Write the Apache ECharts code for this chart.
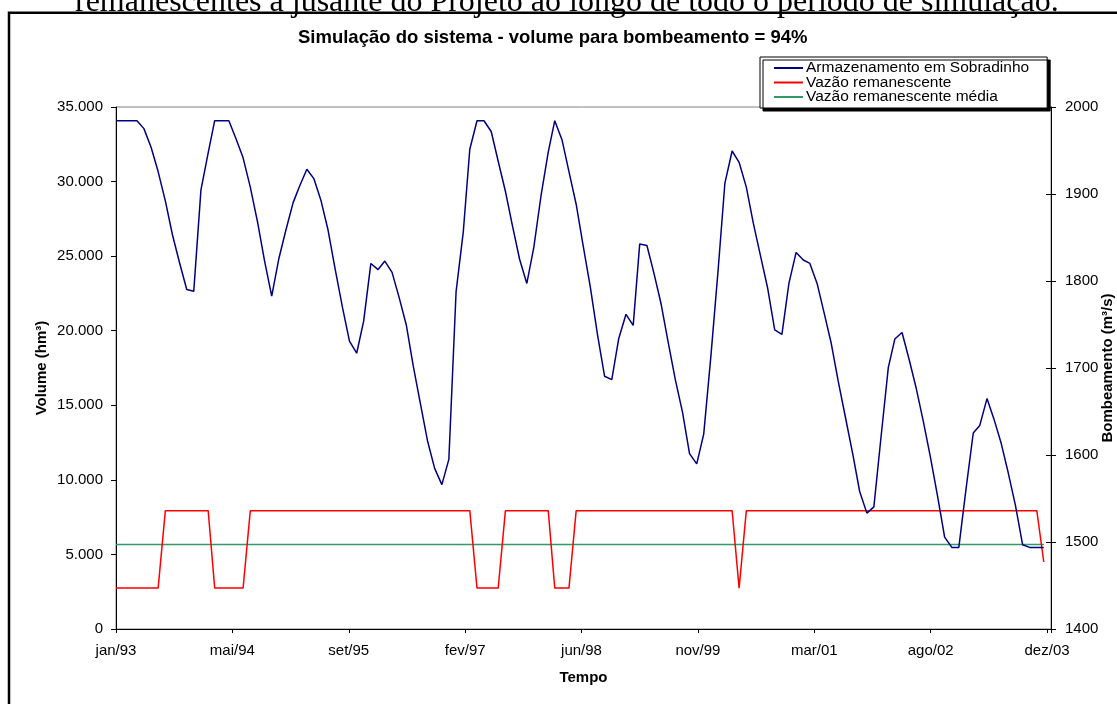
<!DOCTYPE html>
<html>
<head>
<meta charset="utf-8">
<script src="https://cdn.jsdelivr.net/npm/echarts@6/dist/echarts.min.js"></script>
<style>
html,body{margin:0;padding:0;background:#fff;}
#chart{width:1117px;height:704px;}
</style>
</head>
<body>
<div id="chart"></div>
<script>
// Months: jan/1993 .. dez/2003 (132 monthly values)
const startYear = 1993;
const nMonths = 132;

// Armazenamento em Sobradinho (hm³), one row per year
const armazenamento = [
  34080,34080,34080,34080,33550,32280,30670,28710,26400,24560,22760,22640,
  29440,31930,34080,34080,34080,32860,31590,29630,27300,24700,22320,24790,
  26750,28590,29700,30830,30200,28710,26750,24100,21560,19300,18490,20640,
  24510,24100,24670,23910,22250,20400,17640,15100,12570,10770,9680,11370,
  22600,26630,32170,34080,34080,33360,31360,29350,26980,24790,23170,25590,
  29050,31980,34080,32810,30670,28480,25700,22900,19710,16950,16720,19480,
  21100,20360,25820,25710,23860,21790,19250,16720,14530,11760,11070,13070,
  18330,24100,29900,32050,31290,29630,27210,25020,22830,20060,19760,23170,
  25250,24740,24510,23170,21210,19140,16600,14180,11760,9220,7770,8190,
  12910,17520,19440,19880,18100,16140,13950,11530,8880,6160,5470,5470,
  9400,13140,13650,15450,14070,12450,10490,8300,5650,5470,5470,5470
];

// Vazão remanescente (right axis), one row per year
const vazaoRemanescente = [
  1447,1447,1447,1447,1447,1447,1447,1536,1536,1536,1536,1536,
  1536,1536,1447,1447,1447,1447,1447,1536,1536,1536,1536,1536,
  1536,1536,1536,1536,1536,1536,1536,1536,1536,1536,1536,1536,
  1536,1536,1536,1536,1536,1536,1536,1536,1536,1536,1536,1536,
  1536,1536,1536,1447,1447,1447,1447,1536,1536,1536,1536,1536,
  1536,1536,1447,1447,1447,1536,1536,1536,1536,1536,1536,1536,
  1536,1536,1536,1536,1536,1536,1536,1536,1536,1536,1536,1536,
  1536,1536,1536,1536,1447,1536,1536,1536,1536,1536,1536,1536,
  1536,1536,1536,1536,1536,1536,1536,1536,1536,1536,1536,1536,
  1536,1536,1536,1536,1536,1536,1536,1536,1536,1536,1536,1536,
  1536,1536,1536,1536,1536,1536,1536,1536,1536,1536,1536,1477
];

// Vazão remanescente média (right axis)
const vazaoMedia = 1497;

// X tick labels, one every 500 days from 1 jan 1993
const xTickLabels = ['jan/93','mai/94','set/95','fev/97','jun/98','nov/99','mar/01','ago/02','dez/03'];
const xTickStepDays = 500;

const seriesNames = ['Armazenamento em Sobradinho','Vazão remanescente','Vazão remanescente média'];

const DAY = 86400000;
const t0 = Date.UTC(startYear, 0, 1);
function dayOf(m){ return (Date.UTC(startYear, m, 1) - t0) / DAY; }
const xMax = (Date.UTC(startYear + nMonths/12, 0, 1) - t0) / DAY;

const blueData = armazenamento.map((v,i)=>[dayOf(i), v]);
const redData = vazaoRemanescente.map((v,i)=>[dayOf(i), v]);
const greenData = [[dayOf(0), vazaoMedia],[dayOf(nMonths-1), vazaoMedia]];

function thousands(v){ return String(v).replace(/\B(?=(\d{3})+(?!\d))/g,'.'); }

const FONT = 'Liberation Sans, Arial, sans-serif';
const chart = echarts.init(document.getElementById('chart'), null, {renderer:'canvas'});
chart.setOption({
  animation:false,
  backgroundColor:'#fff',
  textStyle:{fontFamily:FONT, color:'#000'},
  title:{
    text:'Simulação do sistema - volume para bombeamento = 94%',
    left:298, top:28, padding:0,
    textStyle:{fontFamily:FONT, fontSize:18.5, fontWeight:'bold', color:'#000'}
  },
  graphic:[
    {type:'rect', silent:true, z:100,
     shape:{x:9, y:12.8, width:1200, height:800},
     style:{fill:'none', stroke:'#000', lineWidth:2.5}},
    {type:'text', silent:true, z:100, x:75, y:3,
     style:{text:'remanescentes à jusante do Projeto ao longo de todo o período de simulação.',
            font:'32px "Liberation Serif", "Times New Roman", serif',
            fill:'#000', verticalAlign:'middle', align:'left'}}
  ],
  legend:{
    data:seriesNames,
    orient:'vertical',
    left:760, top:57,
    padding:[3,18,3,14],
    itemGap:-1.5,
    itemWidth:29, itemHeight:2,
    icon:'rect',
    backgroundColor:'#fff',
    borderColor:'#000', borderWidth:1,
    shadowColor:'#000', shadowBlur:0, shadowOffsetX:3, shadowOffsetY:3,
    textStyle:{fontFamily:FONT, fontSize:15.5, color:'#000', padding:[0,0,0,-2]}
  },
  grid:{left:116, top:107, right:66, bottom:75, outerBoundsMode:'none', containLabel:false,
        show:true, borderColor:'#808080', borderWidth:1, backgroundColor:'#fff'},
  xAxis:{
    type:'value', min:0, max:xMax, interval:xTickStepDays,
    name:'Tempo', nameLocation:'middle', nameGap:41, nameMoveOverlap:false,
    nameTextStyle:{fontFamily:FONT, fontSize:15, fontWeight:'bold', color:'#000'},
    axisLine:{lineStyle:{color:'#000', width:1}},
    axisTick:{length:4, lineStyle:{color:'#000'}},
    splitLine:{show:false},
    axisLabel:{margin:14, fontFamily:FONT, fontSize:15, color:'#000',
      formatter:function(v){ const k = v / xTickStepDays; return Number.isInteger(k) && k < xTickLabels.length ? xTickLabels[k] : ''; }}
  },
  yAxis:[
    {type:'value', min:0, max:35000, interval:5000, position:'left',
     name:'Volume (hm³)', nameLocation:'middle', nameGap:74, nameRotate:90, nameMoveOverlap:false,
     nameTextStyle:{fontFamily:FONT, fontSize:15, fontWeight:'bold', color:'#000', align:'center', verticalAlign:'middle'},
     axisLine:{show:true, lineStyle:{color:'#000', width:1}},
     axisTick:{show:true, length:5, lineStyle:{color:'#000'}},
     splitLine:{show:false},
     axisLabel:{margin:13, fontFamily:FONT, fontSize:15, color:'#000', formatter:thousands}},
    {type:'value', min:1400, max:2000, interval:100, position:'right',
     name:'Bombeamento (m³/s)', nameLocation:'middle', nameGap:57, nameRotate:90, nameMoveOverlap:false,
     nameTextStyle:{fontFamily:FONT, fontSize:15, fontWeight:'bold', color:'#000', align:'center', verticalAlign:'middle'},
     axisLine:{show:true, lineStyle:{color:'#000', width:1}},
     axisTick:{show:true, length:5, lineStyle:{color:'#000'}},
     splitLine:{show:false},
     axisLabel:{margin:14, fontFamily:FONT, fontSize:15, color:'#000', formatter:function(v){ return String(v); }}},
    {type:'value', min:1400, max:2000, interval:100, position:'right', offset:0,
     axisLine:{show:false},
     axisTick:{show:true, inside:true, length:5, lineStyle:{color:'#000'}},
     splitLine:{show:false},
     axisLabel:{show:false}}
  ],
  series:[
    {name:seriesNames[0], type:'line', yAxisIndex:0, data:blueData, showSymbol:false, symbol:'none',
     lineStyle:{color:'#000080', width:1.5}, itemStyle:{color:'#000080'}, z:3},
    {name:seriesNames[1], type:'line', yAxisIndex:1, data:redData, showSymbol:false, symbol:'none',
     lineStyle:{color:'#FF0000', width:1.5}, itemStyle:{color:'#FF0000'}, z:2},
    {name:seriesNames[2], type:'line', yAxisIndex:1, data:greenData, showSymbol:false, symbol:'none',
     lineStyle:{color:'#339966', width:1.5}, itemStyle:{color:'#339966'}, z:1}
  ]
});
</script>
</body>
</html>
